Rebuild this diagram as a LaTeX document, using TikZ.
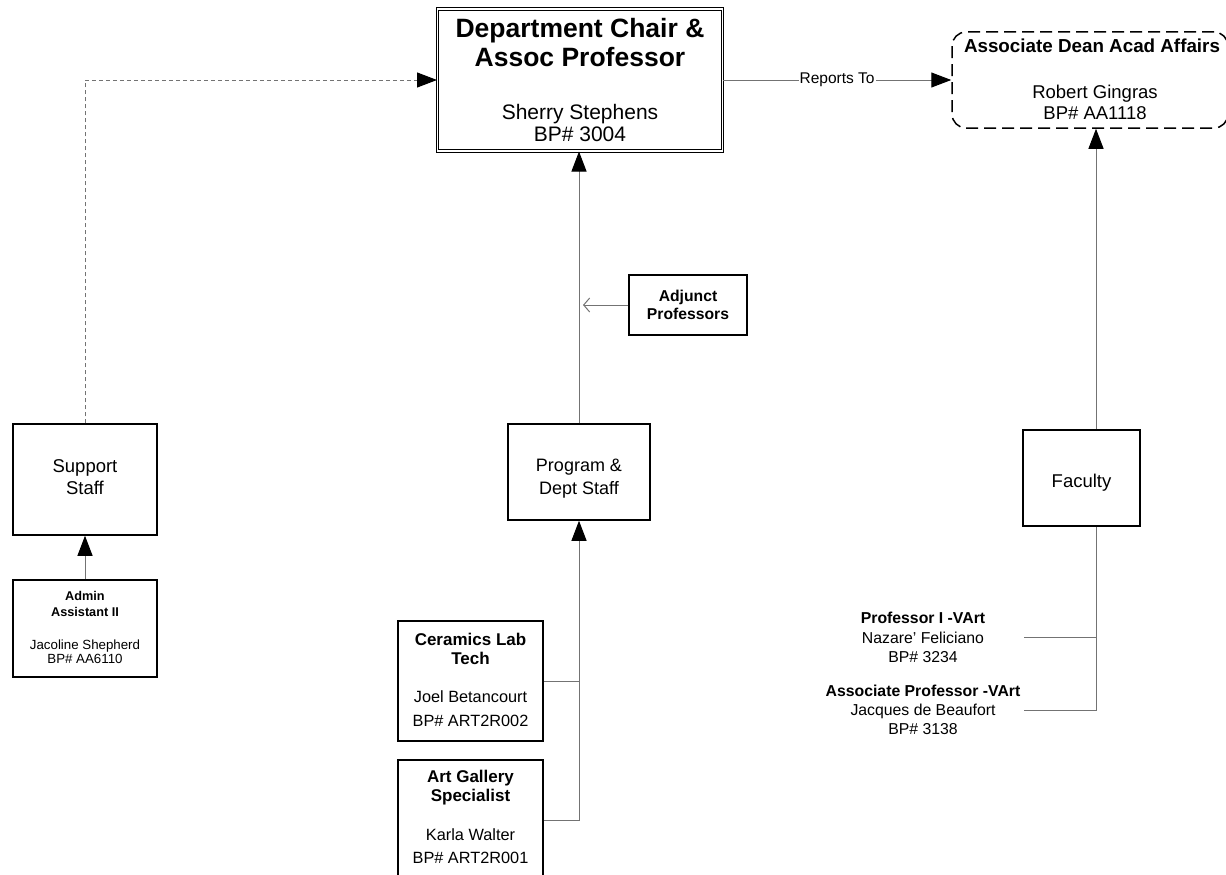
\documentclass[tikz,border=0pt]{standalone}
\usepackage{fontspec}
\setmainfont{Liberation Sans}
\usetikzlibrary{arrows.meta}

\tikzset{
  box/.style={draw, line width=1.5pt, inner sep=0pt, align=center},
  conn/.style={draw=black!55, line width=1pt},
  tip/.style={-{Triangle[color=black, length=20pt, width=15pt]}},
  barb/.style={-{Straight Barb[length=6pt, width=14pt]}},
  lbl/.style={align=center, inner sep=0pt},
}

\begin{document}
\begin{tikzpicture}[x=1pt, y=-1pt]
        \useasboundingbox (0,0) rectangle (1226,875);

        % chair and dean
        \node[box, double, double distance=1.5pt, line width=1pt,
              minimum width=285pt, minimum height=142pt] (chair) at (580,80) {};
        \node[lbl, font=\fontsize{26.5}{29}\selectfont\bfseries] (chairtitle) at (580,42.5) {Department Chair \&\\Assoc Professor};
        \node[lbl, font=\fontsize{21}{22}\selectfont] (chairname) at (580,123) {Sherry Stephens\\BP\# 3004};

        \node[box, dashed, dash pattern=on 12pt off 6pt, rounded corners=14pt,
              minimum width=276pt, minimum height=96pt] (dean) at (1090,80) {};
        \node[lbl, font=\fontsize{18.8}{20}\selectfont\bfseries] (deantitle) at (1092,46) {Associate Dean Acad Affairs};
        \node[lbl, font=\fontsize{18.5}{20.5}\selectfont] (deanname) at (1095,102.5) {Robert Gingras\\BP\# AA1118};

        % staff columns
        \node[box, minimum width=144pt, minimum height=111pt] (support) at (85,479.5) {};
        \node[lbl, font=\fontsize{18.5}{22}\selectfont] (supporttext) at (85,477) {Support\\Staff};
        \node[box, minimum width=144pt, minimum height=97pt] (admin) at (85,628.5) {};
        \node[lbl, font=\fontsize{12.7}{16}\selectfont\bfseries] (admintitle) at (85,604) {Admin\\Assistant II};
        \node[lbl, font=\fontsize{13.3}{14.5}\selectfont] (adminname) at (85,651.5) {Jacoline Shepherd\\BP\# AA6110};

        \node[box, minimum width=142pt, minimum height=96pt] (program) at (579,472) {};
        \node[lbl, font=\fontsize{18}{23}\selectfont] (programtext) at (579,478.5) {Program \&\\Dept Staff};
        \node[box, minimum width=118pt, minimum height=60pt, font=\fontsize{15.7}{18.5}\selectfont\bfseries] (adjunct) at (688,305) {Adjunct\\Professors};

        \node[box, minimum width=145pt, minimum height=120pt] (ceramics) at (470.5,681) {};
        \node[lbl, font=\fontsize{17}{18.5}\selectfont\bfseries] (ceramicstitle) at (470.5,649) {Ceramics Lab\\Tech};
        \node[lbl, font=\fontsize{16.3}{24}\selectfont] (ceramicsname) at (470.5,709) {Joel Betancourt\\BP\# ART2R002};

        \node[box, minimum width=145pt, minimum height=120pt] (gallery) at (470.5,820) {};
        \node[lbl, font=\fontsize{17}{19}\selectfont\bfseries] (gallerytitle) at (470.5,787.5) {Art Gallery\\Specialist};
        \node[lbl, font=\fontsize{16.3}{23}\selectfont] (galleryname) at (470.5,846.5) {Karla Walter\\BP\# ART2R001};

        % faculty
        \node[box, minimum width=117pt, minimum height=96pt] (faculty) at (1081.5,478) {};
        \node[lbl, font=\fontsize{18.5}{22}\selectfont] (facultytext) at (1081.5,483) {Faculty};
        \node[lbl, font=\fontsize{15.8}{19.5}\selectfont] (profone) at (923,637.5) {\textbf{Professor I -VArt}\\Nazare' Feliciano\\BP\# 3234};
        \node[lbl, font=\fontsize{15.8}{19}\selectfont] (proftwo) at (923,709.5) {\textbf{Associate Professor -VArt}\\Jacques de Beaufort\\BP\# 3138};
        \coordinate (facultyup) at ([xshift=14.5pt]faculty.north);
        \coordinate (facultydown) at ([xshift=14.5pt]faculty.south);
        \coordinate (profoneend) at (1024,637.5);
        \coordinate (proftwoend) at (1024,710);

        % connectors
        \draw[conn, dashed, dash pattern=on 4pt off 3pt, tip] (support.north) |- (chair.west);
        \draw[conn, tip] (chair.east) -- node[fill=white, inner sep=1pt, font=\fontsize{15.5}{17}\selectfont] {Reports To} (dean.west);
        \draw[conn, tip] (admin.north) -- (support.south);
        \draw[conn, tip] (program.north) -- (program.north |- chair.south);
        \draw[conn, barb, shorten >=4pt] (adjunct.west) -- (adjunct.west -| program.north);
        \draw[conn] (ceramics.east) -- (ceramics.east -| program.south);
        \draw[conn, tip] (gallery.east) -| (program.south);
        \draw[conn, tip] (facultyup) -- (facultyup |- dean.south);
        \draw[conn] (facultydown) |- (proftwoend);
        \draw[conn] (profoneend) -- (profoneend -| facultydown);
\end{tikzpicture}
\end{document}
